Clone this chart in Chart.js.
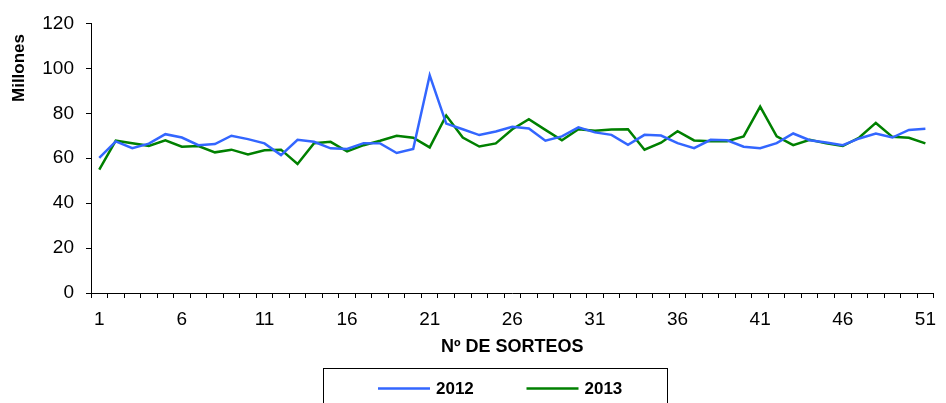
<!DOCTYPE html>
<html><head><meta charset="utf-8">
<script src="https://cdn.jsdelivr.net/npm/chart.js@4"></script>
<style>html,body{margin:0;padding:0;background:#fff;overflow:hidden}#wrap{width:946px;height:403px}</style>
</head><body><div id="wrap"><canvas id="c" width="946" height="403"></canvas></div>
<script>
const categories = ['1','2','3','4','5','6','7','8','9','10','11','12','13','14','15','16','17','18','19','20','21','22','23','24','25','26','27','28','29','30','31','32','33','34','35','36','37','38','39','40','41','42','43','44','45','46','47','48','49','50','51'];
const values2012 = [60.1,67.5,64.5,66.5,70.7,69.2,65.8,66.3,70,68.5,66.6,61.4,68.2,67.3,64.4,64.1,66.7,66.6,62.3,64.1,96.9,75.4,72.9,70.3,71.9,74,73.2,67.8,69.7,73.7,71.5,70.4,66,70.4,70.1,66.7,64.5,68.2,68,65.1,64.4,66.7,71,68,67,65.8,68.8,71,69.2,72.6,73.1];
const values2013 = [54.9,67.8,66.7,65.5,68,65.1,65.4,62.6,63.8,61.7,63.5,63.8,57.4,66.7,67.3,63,65.8,67.8,70,69.1,64.8,79,69.2,65.2,66.6,72.9,77.4,72.6,68,72.9,72.2,72.8,72.9,63.8,66.9,72,67.9,67.6,67.6,69.7,83,69.7,65.8,68.2,66.6,65.4,69.2,75.7,69.5,69.1,66.6];
const seriesNames = ['2012','2013'];
const seriesColors = ['#3366FF','#008000'];
const yTicks = [0,20,40,60,80,100,120];
const xTitle = 'Nº DE SORTEOS';
const yTitle = 'Millones';

const FONT = "'Liberation Sans', Arial, sans-serif";

const yTitlePlugin = {
  id: 'yTitlePlugin',
  afterDraw(chart) {
    const ctx = chart.ctx;
    ctx.save();
    ctx.translate(19, 68);
    ctx.rotate(-Math.PI / 2);
    ctx.font = "bold 17px " + FONT;
    ctx.fillStyle = '#000';
    ctx.textAlign = 'center';
    ctx.textBaseline = 'middle';
    ctx.fillText(yTitle, 0, 0);
    ctx.restore();
  }
};

const boxedLegend = {
  id: 'boxedLegend',
  afterDraw(chart) {
    const ctx = chart.ctx;
    ctx.save();
    ctx.strokeStyle = '#000';
    ctx.lineWidth = 1;
    ctx.strokeRect(323.5, 368.5, 344, 60);
    ctx.font = "bold 17px " + FONT;
    ctx.textBaseline = 'middle';
    ctx.textAlign = 'left';
    chart.data.datasets.forEach((ds, i) => {
      const x0 = 378 + i * 148.5;
      ctx.strokeStyle = ds.borderColor;
      ctx.lineWidth = 2.5;
      ctx.beginPath();
      ctx.moveTo(x0, 388.5);
      ctx.lineTo(x0 + 52, 388.5);
      ctx.stroke();
      ctx.fillStyle = '#000';
      ctx.fillText(ds.label, x0 + 58, 389);
    });
    ctx.restore();
  }
};

new Chart(document.getElementById('c'), {
  type: 'line',
  data: {
    labels: categories,
    datasets: [
      {label: seriesNames[0], data: values2012, borderColor: seriesColors[0], backgroundColor: seriesColors[0], borderWidth: 2.5, pointRadius: 0, tension: 0, fill: false},
      {label: seriesNames[1], data: values2013, borderColor: seriesColors[1], backgroundColor: seriesColors[1], borderWidth: 2.5, pointRadius: 0, tension: 0, fill: false}
    ]
  },
  options: {
    responsive: false,
    animation: false,
    devicePixelRatio: 1,
    layout: {padding: {left: 0, right: 4, top: 22, bottom: 0}},
    plugins: {legend: {display: false}, tooltip: {enabled: false}},
    scales: {
      x: {
        type: 'category',
        offset: true,
        grid: {display: true, drawOnChartArea: false, offset: true, tickLength: 5, color: '#000', lineWidth: 1},
        border: {display: true, color: '#000', width: 1},
        ticks: {
          autoSkip: false, maxRotation: 0, minRotation: 0, padding: 10, color: '#000',
          font: {family: FONT, size: 19},
          callback: function(v, idx) { return idx % 5 === 0 ? this.getLabelForValue(v) : ''; }
        },
        title: {display: true, text: xTitle, color: '#000', font: {family: FONT, size: 18, weight: 'bold'}, padding: {top: 0, bottom: 45}},
        afterFit: s => { s.height = 110; }
      },
      y: {
        min: 0, max: 120,
        afterBuildTicks: s => { s.ticks = yTicks.map(v => ({value: v})); },
        grid: {display: true, drawOnChartArea: false, tickLength: 5, color: '#000', lineWidth: 1},
        border: {display: true, color: '#000', width: 1},
        ticks: {padding: 12, color: '#000', font: {family: FONT, size: 19}},
        title: {display: false, text: yTitle},
        afterFit: s => { s.width = 91; }
      }
    }
  },
  plugins: [yTitlePlugin, boxedLegend]
});
</script>
</body></html>
